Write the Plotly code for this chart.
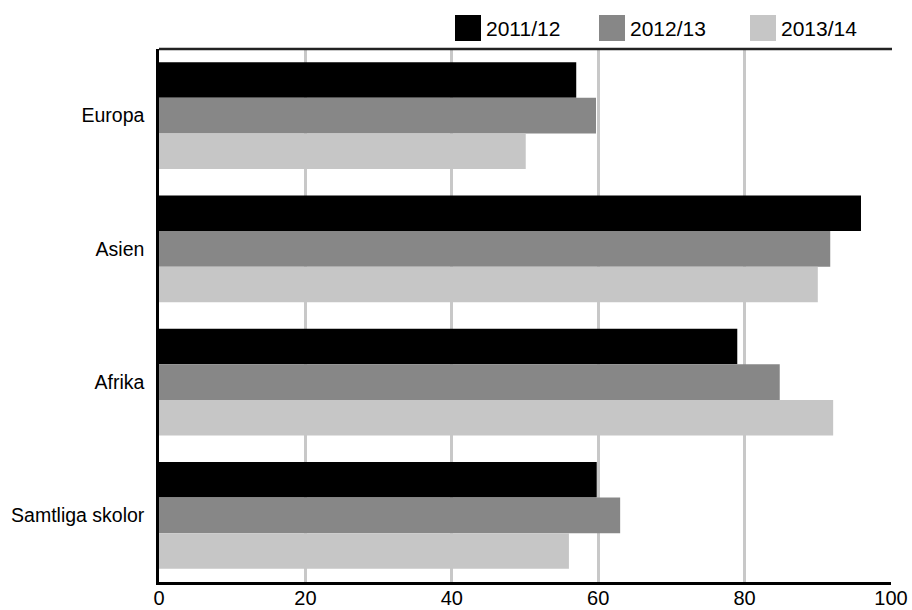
import plotly.graph_objects as go

categories = ["Europa", "Asien", "Afrika", "Samtliga skolor"]
series_names = ["2011/12", "2012/13", "2013/14"]
values_2011 = [57.0, 95.9, 79.0, 59.8]
values_2012 = [59.7, 91.7, 84.8, 63.0]
values_2013 = [50.1, 90.0, 92.1, 56.0]
colors = ["#000000", "#878787", "#c6c6c6"]
x_ticks = [0, 20, 40, 60, 80, 100]

FONT = "Liberation Sans, Arial, sans-serif"
W, H = 912, 610
L, R, T, B = 159, 21, 49, 28
PW, PH = W - L - R, H - T - B

def px2x(px):
    return (px - L) / PW

def py2y(py):
    return (H - B - py) / PH

fig = go.Figure()
for name, vals, col in zip(series_names, [values_2011, values_2012, values_2013], colors):
    fig.add_trace(go.Bar(
        y=categories, x=vals, name=name, orientation="h",
        marker=dict(color=col, line=dict(width=0)),
        showlegend=False, hoverinfo="x+y",
    ))

# custom legend with large squares
leg_sq_x = [455, 599, 750]
for i, (name, col) in enumerate(zip(series_names, colors)):
    x0 = leg_sq_x[i]
    fig.add_shape(type="rect", xref="paper", yref="paper",
                  x0=px2x(x0), x1=px2x(x0 + 26), y0=py2y(41), y1=py2y(15),
                  fillcolor=col, line=dict(width=0), layer="above")
    fig.add_annotation(xref="paper", yref="paper", x=px2x(x0 + 29), y=py2y(28),
                       text=name, showarrow=False, xanchor="left", yanchor="middle",
                       font=dict(family=FONT, size=21, color="#000000"))

# top border line
fig.add_shape(type="line", xref="paper", yref="paper", x0=0, x1=px2x(892), y0=1, y1=1,
              line=dict(color="#222222", width=2.5), layer="above")

fig.update_layout(
    width=W, height=H,
    margin=dict(l=L, r=R, t=T, b=B, pad=0, autoexpand=False),
    paper_bgcolor="white", plot_bgcolor="white",
    barmode="group", bargap=0.197, bargroupgap=0,
    font=dict(family=FONT, size=19.5, color="#000000"),
    xaxis=dict(range=[0, 100], tickvals=x_ticks, ticktext=[str(t) for t in x_ticks],
               showgrid=True, gridcolor="#c8c8c8", gridwidth=2.5,
               showline=True, linecolor="#000000", linewidth=2.5,
               zeroline=False, ticks="", tickfont=dict(size=20, family=FONT),
               ticklabelstandoff=-4,
               automargin=False, fixedrange=True),
    yaxis=dict(autorange="reversed", showgrid=False,
               showline=True, linecolor="#000000", linewidth=2.5,
               ticks="", ticklabelstandoff=8, tickfont=dict(size=19.5, family=FONT),
               automargin=False, fixedrange=True),
)

fig.write_html("out.html", config={"displayModeBar": False},
               post_script="document.body.style.margin='0';document.body.style.overflow='hidden';")
